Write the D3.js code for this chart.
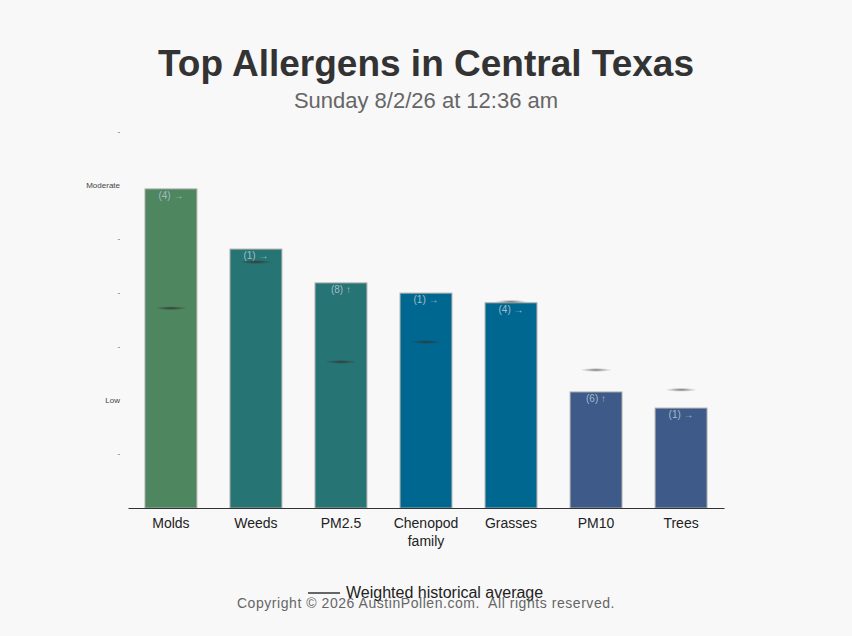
<!DOCTYPE html>
<html>
<head>
<meta charset="utf-8">
<script src="https://cdn.jsdelivr.net/npm/d3@7"></script>
<style>
  body { margin: 0; background: #f8f8f8; font-family: "Liberation Sans", Arial, sans-serif; }
</style>
</head>
<body>
<div id="chart"></div>
<script>
// data (levels on a 0..7 scale)
var categories = ["Molds", "Weeds", "PM2.5", "Chenopod family", "Grasses", "PM10", "Trees"];
var levels     = [5.94, 4.82, 4.19, 4.00, 3.82, 2.16, 1.86];
var averages   = [3.72, 4.58, 2.72, 3.09, 3.84, 2.57, 2.20];
var counts     = ["(4) →", "(1) →", "(8) ↑", "(1) →", "(4) →", "(6) ↑", "(1) →"];
var barColors  = ["#4e8660", "#267474", "#267474", "#006890", "#006890", "#3d5a89", "#3d5a89"];
var tickValues = [1, 2, 3, 4, 5, 6, 7];
var tickLabels = {2: "Low", 6: "Moderate"};

var W = 852, H = 636;
var margin = {top: 132, right: 128, bottom: 128, left: 128},
  width = W - margin.left - margin.right,
  height = H - margin.top - margin.bottom;

var svg = d3.select("#chart").append("svg")
  .attr("width", W)
  .attr("height", H)
  .style("display", "block");

svg.append("rect").attr("width", W).attr("height", H).attr("fill", "#f8f8f8");

// gradients for the average markers
var defs = svg.append("defs");
var grad = defs.append("radialGradient").attr("id", "avgGrad");
grad.append("stop").attr("offset", "0%").attr("stop-color", "#333").attr("stop-opacity", 0.9);
grad.append("stop").attr("offset", "100%").attr("stop-color", "#333").attr("stop-opacity", 0);
var grad2 = defs.append("radialGradient").attr("id", "avgGradOut");
grad2.append("stop").attr("offset", "0%").attr("stop-color", "#666").attr("stop-opacity", 0.9);
grad2.append("stop").attr("offset", "100%").attr("stop-color", "#888").attr("stop-opacity", 0);

svg.append("text")
  .attr("x", W / 2).attr("y", 76)
  .attr("text-anchor", "middle")
  .style("font-size", "37px").style("font-weight", "bold").style("fill", "#333")
  .text("Top Allergens in Central Texas");

svg.append("text")
  .attr("x", W / 2).attr("y", 108)
  .attr("text-anchor", "middle")
  .style("font-size", "22px").style("fill", "#666")
  .text("Sunday 8/2/26 at 12:36 am");

var g = svg.append("g").attr("transform", "translate(" + margin.left + "," + margin.top + ")");

var x = d3.scaleBand().domain(categories).range([0, width]).paddingInner(0.39).paddingOuter(0.2);
var y = d3.scaleLinear().domain([0, 7]).range([height, 0]);

// y axis: only small labels, no line
var yAxis = g.append("g")
  .attr("transform", "translate(-8,0)")
  .call(d3.axisLeft(y).tickValues(tickValues).tickSize(0)
    .tickFormat(function (d) { return tickLabels[d] || "-"; }));
yAxis.select(".domain").remove();
yAxis.selectAll("text")
  .attr("x", 0)
  .attr("dy", "0.2em")
  .style("font-family", "Liberation Sans, Arial, sans-serif")
  .style("font-size", function (d) { return tickLabels[d] ? "8px" : "7px"; })
  .style("fill", "#444");

var bars = g.selectAll(".bar").data(categories).enter().append("g").attr("class", "bar");

bars.append("rect")
  .attr("x", function (d) { return x(d); })
  .attr("y", function (d, i) { return y(levels[i]); })
  .attr("width", x.bandwidth())
  .attr("height", function (d, i) { return height - y(levels[i]); })
  .attr("fill", function (d, i) { return barColors[i]; })
  .attr("stroke", "#aaa")
  .attr("stroke-width", 1);

bars.append("text")
  .attr("x", function (d) { return x(d) + x.bandwidth() / 2; })
  .attr("y", function (d, i) { return y(levels[i]) + 10; })
  .attr("text-anchor", "middle")
  .style("font-size", "10px")
  .style("fill", "#a3bccb")
  .text(function (d, i) { return counts[i]; });

bars.append("ellipse")
  .attr("cx", function (d) { return x(d) + x.bandwidth() / 2; })
  .attr("cy", function (d, i) { return y(averages[i]); })
  .attr("rx", 16)
  .attr("ry", 2)
  .attr("fill", function (d, i) { return averages[i] > levels[i] ? "url(#avgGradOut)" : "url(#avgGrad)"; });

// x axis
var xAxis = g.append("g")
  .attr("transform", "translate(0," + height + ")")
  .call(d3.axisBottom(x).tickSize(0).tickSizeOuter(0));
xAxis.select(".domain").attr("stroke", "#333");
xAxis.selectAll("text")
  .style("font-family", "Liberation Sans, Arial, sans-serif")
  .style("font-size", "14px")
  .style("fill", "#222")
  .attr("y", 0)
  .attr("dy", null)
  .text(null)
  .each(function (d) {
    var t = d3.select(this);
    d.split(" ").forEach(function (w, k) {
      t.append("tspan").attr("x", 0).attr("y", 20 + k * 18).text(w);
    });
  });

// legend
var legend = svg.append("g");
legend.append("line")
  .attr("x1", 308).attr("x2", 340).attr("y1", 593).attr("y2", 593)
  .attr("stroke", "#666").attr("stroke-width", 2);
legend.append("text")
  .attr("x", 346).attr("y", 598)
  .style("font-size", "16px").style("fill", "#222")
  .text("Weighted historical average");

svg.append("text")
  .attr("x", W / 2).attr("y", 608)
  .attr("text-anchor", "middle")
  .style("font-size", "14px").style("fill", "#666")
  .style("letter-spacing", "0.55px").style("white-space", "pre")
  .text("Copyright © 2026 AustinPollen.com.  All rights reserved.");
</script>
</body>
</html>
